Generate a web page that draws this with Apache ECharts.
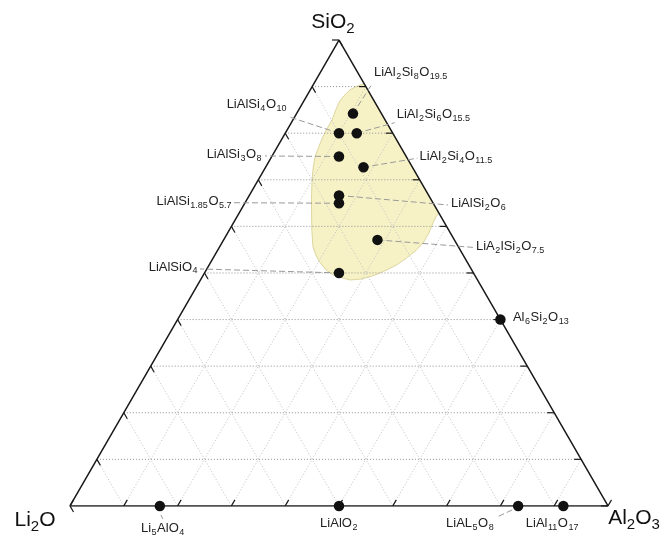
<!DOCTYPE html>
<html>
<head>
<meta charset="utf-8">
<script src="https://cdn.jsdelivr.net/npm/echarts@6/dist/echarts.min.js"></script>
<style>
  html, body { margin: 0; padding: 0; background: #fff; }
  #chart { width: 665px; height: 537px; }
</style>
</head>
<body>
<div id="chart"></div>
<script>
// End-member oxides at the corners: bottom-left, bottom-right, top
const vertexNames = ['Li2O', 'Al2O3', 'SiO2'];
const vertexLi2O = [100, 0, 0];
const vertexAl2O3 = [0, 100, 0];
const vertexSiO2 = [0, 0, 100];

// Phases, composition in mol% of Li2O / Al2O3 / SiO2
const compoundNames = ['Li5AlO4', 'LiAlO2', 'LiAL5O8', 'LiAl11O17', 'Al6Si2O13',
  'LiAlSiO4', 'LiAlSi1.85O5.7', 'LiAlSi2O6', 'LiAlSi3O8', 'LiAlSi4O10',
  'LiAl2Si8O19.5', 'LiAl2Si6O15.5', 'LiAl2Si4O11.5', 'LiA2lSi2O7.5'];
const compoundLi2O  = [83.3, 50, 16.7, 8.3, 0, 25, 17.5, 16.7, 12.5, 10, 5.3, 6.7, 9.1, 14.3];
const compoundAl2O3 = [16.7, 50, 83.3, 91.7, 60, 25, 17.5, 16.7, 12.5, 10, 10.5, 13.3, 18.2, 28.6];
const compoundSiO2  = [0, 0, 0, 0, 40, 50, 64.9, 66.7, 75, 80, 84.2, 80, 72.7, 57.1];

// Outline of the shaded composition field (mol%)
const fieldLi2O  = [0, 1.6, 3.3, 5.1, 6.4, 8.1, 9.9, 11.8, 13.4, 15.2, 17.0, 18.5, 20.0, 21.7, 23.3, 25.4, 27.0, 27.4, 27.4, 27.1,
  26.3, 25.1, 23.7, 22.2, 20.3, 18.1, 15.7, 13.3, 10.7, 8.3, 6.1, 3.9, 2.1, 0.9, 0];
const fieldAl2O3 = [9.4, 8.3, 7.4, 6.9, 6.7, 6.9, 7.3, 7.3, 7.4, 7.7, 8.1, 8.9, 10.0, 11.5, 13.1, 15.3, 17.3, 18.9, 20.4, 22.2,
  24.1, 25.9, 27.8, 29.2, 30.7, 32.2, 33.6, 34.9, 36.0, 36.9, 37.4, 37.4, 37.1, 37.0, 37.1];
const fieldSiO2  = [90.6, 90.1, 89.3, 88.0, 86.9, 85.0, 82.9, 80.9, 79.2, 77.1, 74.9, 72.6, 70.0, 66.8, 63.6, 59.3, 55.7, 53.7, 52.2, 50.7,
  49.6, 49.0, 48.5, 48.6, 49.0, 49.7, 50.7, 51.8, 53.3, 54.8, 56.5, 58.7, 60.8, 62.1, 62.9];

// Tick and grid levels along each edge (mol%)
const tickLevels = [0, 10, 20, 30, 40, 50, 60, 70, 80, 90, 100];
const gridLevels = [10, 20, 30, 40, 50, 60, 70, 80, 90];

// ---------------------------------------------------------------------------
const H = Math.sqrt(3) / 2;
// Ternary composition -> cartesian (equilateral triangle of side 1)
function project(li, al, si) {
  const s = li + al + si;
  return [(al + si / 2) / s, (si / s) * H];
}

const FONT = '"Liberation Sans", Arial, Helvetica, sans-serif';

// Subscript every number in a chemical formula
function richFormula(name) {
  return name.split(/(\d+(?:\.\d+)?)/).map(function (p, i) {
    if (p === '') return '';
    return i % 2 ? '{s|' + p + '}' : '{n|' + p + '}';
  }).join('');
}
const smallRich = {
  n: { fontSize: 13, fontFamily: FONT, fill: '#222' },
  s: { fontSize: 9, fontFamily: FONT, fill: '#222', padding: [8, 0.5, 0, 0.5] }
};
const bigRich = {
  n: { fontSize: 21, fontFamily: FONT, fill: '#111' },
  s: { fontSize: 15, fontFamily: FONT, fill: '#111', padding: [13, 0, 0, 0] }
};

// Label placement relative to each point (px): text offset, alignment, leader segment
const labelLayout = [
  { dx: 3, dy: 22.5, align: 'center', lead: [1, 9, 3, 13] },
  { dx: 0, dy: 18, align: 'center', lead: null },
  { dx: -48, dy: 18, align: 'center', lead: [-6, 4, -22, 11.5] },
  { dx: -11, dy: 18, align: 'center', lead: null },
  { dx: 12.5, dy: -2.5, align: 'left', lead: null },
  { dx: -141, dy: -6, align: 'right', lead: [0, 0, -139, -4] },
  { dx: -107, dy: -1.5, align: 'right', lead: [0, 0, -105, -0.5] },
  { dx: 112, dy: 8, align: 'left', lead: [0, 0, 109, 9.5] },
  { dx: -77, dy: -2, align: 'right', lead: [0, 0, -74, -0.5] },
  { dx: -52, dy: -28.5, align: 'right', lead: [0, 0, -49, -16] },
  { dx: 21, dy: -41, align: 'left', lead: [0, 0, 19, -29.5] },
  { dx: 40, dy: -18.5, align: 'left', lead: [0, 0, 38, -10.5] },
  { dx: 56, dy: -10.5, align: 'left', lead: [0, 0, 54, -9] },
  { dx: 98.5, dy: 6.5, align: 'left', lead: [0, 0, 95.5, 7.5] }
];
const vertexLabelLayout = [
  { dx: -35, dy: 14 },
  { dx: 26, dy: 12.5 },
  { dx: -6, dy: -17.5 }
];

// ---------------------------------------------------------------------------
const compoundPoints = compoundNames.map(function (n, i) {
  return project(compoundLi2O[i], compoundAl2O3[i], compoundSiO2[i]);
});
const vertexPoints = vertexNames.map(function (n, i) {
  return project(vertexLi2O[i], vertexAl2O3[i], vertexSiO2[i]);
});
const fieldPoints = fieldLi2O.map(function (v, i) {
  return project(fieldLi2O[i], fieldAl2O3[i], fieldSiO2[i]);
});

// Dotted grid: constant SiO2 (horizontal), constant Al2O3, constant Li2O
const gridSegments = [];
gridLevels.forEach(function (t) {
  gridSegments.push(project(100 - t, 0, t).concat(project(0, 100 - t, t), [0]));
});
gridLevels.forEach(function (t) {
  gridSegments.push(project(100 - t, t, 0).concat(project(0, t, 100 - t), [1]));
  gridSegments.push(project(t, 100 - t, 0).concat(project(t, 0, 100 - t), [1]));
});

// Tick marks: left edge (down-right), right edge (leftwards), bottom edge (up-right)
const TL = 0.013;
const tickSegments = [];
tickLevels.forEach(function (t) {
  const a = project(100 - t, 0, t);
  tickSegments.push([a[0], a[1], a[0] + TL * 0.5, a[1] - TL * H]);
  const b = project(0, 100 - t, t);
  tickSegments.push([b[0], b[1], b[0] - TL, b[1]]);
  const c = project(100 - t, t, 0);
  tickSegments.push([c[0], c[1], c[0] + TL * 0.5, c[1] + TL * H]);
});

const outline = vertexPoints.concat([vertexPoints[0]]);

const chart = echarts.init(document.getElementById('chart'), null, { renderer: 'canvas' });
chart.setOption({
  animation: false,
  backgroundColor: '#fff',
  grid: { left: 70, top: 40, width: 538, height: 538 * H },
  xAxis: { type: 'value', min: 0, max: 1, show: false },
  yAxis: { type: 'value', min: 0, max: H, show: false },
  series: [
    {
      // shaded field
      type: 'custom', z: 1, silent: true,
      data: [[0, 0]],
      renderItem: function (params, api) {
        return {
          type: 'polygon',
          shape: { points: fieldPoints.map(function (p) { return api.coord(p); }) },
          style: { fill: '#f7f2c6', stroke: '#ddd59e', lineWidth: 1 }
        };
      }
    },
    {
      // dotted grid
      type: 'custom', z: 2, silent: true,
      data: gridSegments,
      renderItem: function (params, api) {
        const p1 = api.coord([api.value(0), api.value(1)]);
        const p2 = api.coord([api.value(2), api.value(3)]);
        const horiz = api.value(4) === 0;
        return {
          type: 'line',
          shape: { x1: p1[0], y1: p1[1], x2: p2[0], y2: p2[1] },
          style: { stroke: horiz ? '#8f8f8f' : '#c0c0c0', lineWidth: 1, lineDash: [1, 2] }
        };
      }
    },
    {
      // triangle outline
      type: 'line', z: 3, silent: true,
      data: outline,
      symbol: 'none',
      lineStyle: { color: '#1a1a1a', width: 1.5 }
    },
    {
      // ticks
      type: 'custom', z: 3, silent: true,
      data: tickSegments,
      renderItem: function (params, api) {
        const p1 = api.coord([api.value(0), api.value(1)]);
        const p2 = api.coord([api.value(2), api.value(3)]);
        return {
          type: 'line',
          shape: { x1: p1[0], y1: p1[1], x2: p2[0], y2: p2[1] },
          style: { stroke: '#1a1a1a', lineWidth: 1.2 }
        };
      }
    },
    {
      // phase labels with leader lines
      type: 'custom', z: 4, silent: true,
      data: compoundPoints,
      renderItem: function (params, api) {
        const i = params.dataIndex;
        const p = api.coord([api.value(0), api.value(1)]);
        const lay = labelLayout[i];
        const children = [];
        if (lay.lead) {
          children.push({
            type: 'line',
            shape: { x1: p[0] + lay.lead[0], y1: p[1] + lay.lead[1], x2: p[0] + lay.lead[2], y2: p[1] + lay.lead[3] },
            style: { stroke: '#9a9a9a', lineWidth: 1, lineDash: [6, 3] }
          });
        }
        children.push({
          type: 'text',
          x: p[0] + lay.dx, y: p[1] + lay.dy,
          style: {
            text: richFormula(compoundNames[i]), rich: smallRich,
            align: lay.align, verticalAlign: 'middle',
            fontSize: 13, fontFamily: FONT, fill: '#222'
          }
        });
        return { type: 'group', children: children };
      }
    },
    {
      // corner labels
      type: 'custom', z: 4, silent: true,
      data: vertexPoints,
      renderItem: function (params, api) {
        const i = params.dataIndex;
        const p = api.coord([api.value(0), api.value(1)]);
        const lay = vertexLabelLayout[i];
        return {
          type: 'text',
          x: p[0] + lay.dx, y: p[1] + lay.dy,
          style: {
            text: richFormula(vertexNames[i]), rich: bigRich,
            align: 'center', verticalAlign: 'middle',
            fontSize: 21, fontFamily: FONT, fill: '#111'
          }
        };
      }
    },
    {
      // phase compositions
      type: 'scatter', z: 5, silent: true,
      data: compoundPoints,
      symbol: 'circle', symbolSize: 10.5,
      itemStyle: { color: '#111', opacity: 1 }
    }
  ]
});
</script>
</body>
</html>
